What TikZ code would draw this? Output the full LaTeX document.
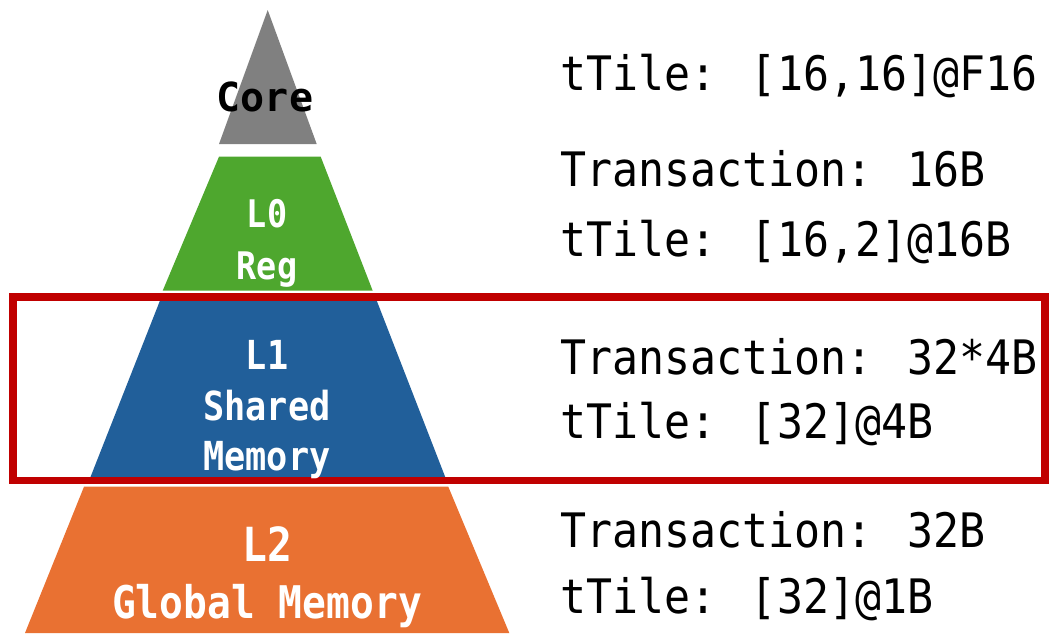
\documentclass[tikz,border=0pt]{standalone}
\usepackage{fontspec}
\newfontfamily\labfont{DejaVu Sans Mono}[FakeStretch=0.88]
\newfontfamily\corefont{DejaVu Sans Mono}
\newfontfamily\infofont{DejaVu Sans Mono}[FakeStretch=0.91]
\definecolor{coregray}{HTML}{808080}
\definecolor{regreen}{HTML}{4EA72E}
\definecolor{shblue}{HTML}{215F9A}
\definecolor{glorange}{HTML}{E97132}
\definecolor{hired}{HTML}{C00000}
\tikzset{
  lab/.style={anchor=base, text=white, inner sep=0pt, font=\labfont\bfseries},
  info/.style={anchor=base west, text=black, inner sep=0pt, font=\infofont\fontsize{47.5}{47.5}\selectfont},
}
\begin{document}
\begin{tikzpicture}[x=1pt,y=-1pt]
\useasboundingbox (0,0) rectangle (1050,633);
% pyramid levels
\fill[coregray] (267.7,10) -- (316.7,144) -- (219,144) -- cycle;
\fill[regreen] (219,156.7) -- (320.7,156.7) -- (372.7,290.7) -- (162.7,290.7) -- cycle;
\fill[shblue] (161,298) -- (375.7,298) -- (446,479) -- (89.7,479) -- cycle;
\fill[glorange] (84,486.7) -- (448.3,486.7) -- (509.3,633) -- (25,633) -- cycle;
% highlight frame
\draw[hired, line width=7.3pt] (13,297) rectangle (1045,480.3);
% labels in the pyramid
\node[lab, text=black, font=\corefont\bfseries\fontsize{40}{40}\selectfont] (core) at (265,111.7) {Core};
\node[lab, font=\labfont\bfseries\fontsize{38}{38}\selectfont] (l0) at (267,227.3) {L0};
\node[lab, font=\labfont\bfseries\fontsize{38}{38}\selectfont] (reg) at (267,279.3) {Reg};
\node[lab, font=\labfont\bfseries\fontsize{40}{40}\selectfont] (l1) at (267,369.3) {L1};
\node[lab, font=\labfont\bfseries\fontsize{40}{40}\selectfont] (shared) at (267,420.7) {Shared};
\node[lab, font=\labfont\bfseries\fontsize{40}{40}\selectfont] (memory) at (267,470.7) {Memory};
\node[lab, font=\labfont\bfseries\fontsize{47}{47}\selectfont] (l2) at (267,561.7) {L2};
\node[lab, font=\labfont\bfseries\fontsize{45}{45}\selectfont] (global) at (267,618.3) {Global Memory};
% right-hand descriptions
\node[info] (t0) at (560,90.7) {tTile: [16,16]@F16};
\node[info] (x1) at (560,186.7) {Transaction: 16B};
\node[info] (t1) at (560,256) {tTile: [16,2]@16B};
\node[info] (x2) at (560,374) {Transaction: 32*4B};
\node[info] (t2) at (560,438.3) {tTile: [32]@4B};
\node[info] (x3) at (560,547.7) {Transaction: 32B};
\node[info] (t3) at (560,613.3) {tTile: [32]@1B};
\end{tikzpicture}
\end{document}
